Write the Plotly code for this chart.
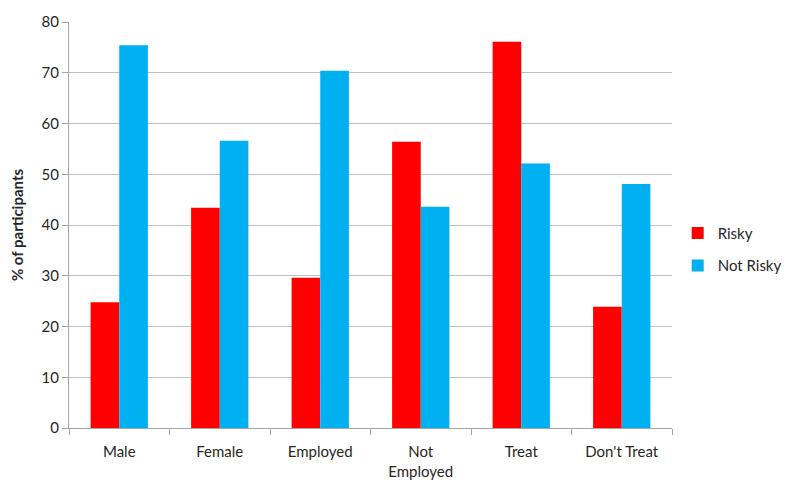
import plotly.graph_objects as go

categories = ["Male", "Female", "Employed", "Not<br>Employed", "Treat", "Don't Treat"]
risky = [24.8, 43.4, 29.6, 56.4, 76.1, 23.9]
not_risky = [75.4, 56.6, 70.4, 43.6, 52.1, 48.1]
y_ticks = [0, 10, 20, 30, 40, 50, 60, 70, 80]

font_family = "Lato, 'Open Sans', sans-serif"

fig = go.Figure()
fig.add_trace(go.Bar(name="Risky", x=categories, y=risky, marker_color="#FF0000",
                     marker_line_width=0, legendgroup="r"))
fig.add_trace(go.Bar(name="Not Risky", x=categories, y=not_risky, marker_color="#00B0F0",
                     marker_line_width=0, legendgroup="n"))

fig.update_layout(
    width=788, height=482,
    margin=dict(l=69, r=116, t=22, b=54, autoexpand=False),
    paper_bgcolor="white", plot_bgcolor="white",
    barmode="group", bargap=0.43, bargroupgap=0,
    font=dict(family=font_family, size=15, color="#262626"),
    legend=dict(xref="container", yref="container", x=0.86, y=0.483,
                xanchor="left", yanchor="middle",
                traceorder="grouped", tracegroupgap=10,
                font=dict(size=15), itemwidth=30,
                bgcolor="rgba(0,0,0,0)"),
    xaxis=dict(
        showline=True, linecolor="#A6A6A6", linewidth=1,
        ticks="outside", ticklen=6, tickcolor="#A6A6A6",
        tickson="boundaries", showgrid=False,
        tickfont=dict(size=15), ticklabelstandoff=10,
    ),
    yaxis=dict(
        range=[0, 80], tickvals=y_ticks,
        showline=True, linecolor="#A6A6A6", linewidth=1,
        ticks="outside", ticklen=6, tickcolor="#A6A6A6",
        showgrid=True, gridcolor="#BFBFBF", gridwidth=1,
        zeroline=False, tickfont=dict(size=15),
        title=dict(text="<b>% of participants</b>", font=dict(size=15), standoff=14),
    ),
)

fig.write_html("out.html")
